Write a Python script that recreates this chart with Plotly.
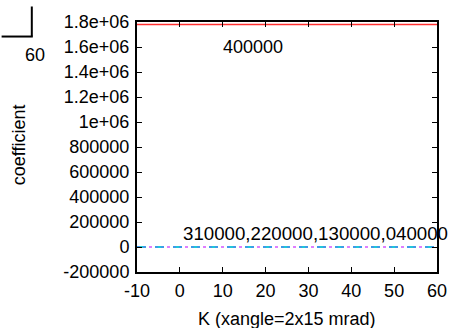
import plotly.graph_objects as go

# K values (xangle = 2x15 mrad)
K = [-10, 0, 10, 20, 30, 40, 50, 60]
# coefficient series
coef_400000 = [1780000, 1780000, 1780000, 1780000, 1780000, 1780000, 1780000, 1780000]
coef_310000 = [0, 0, 0, 0, 0, 0, 0, 0]
coef_220000 = [0, 0, 0, 0, 0, 0, 0, 0]
coef_130000 = [0, 0, 0, 0, 0, 0, 0, 0]
coef_040000 = [0, 0, 0, 0, 0, 0, 0, 0]

x_ticks = [-10, 0, 10, 20, 30, 40, 50, 60]
x_ticklabels = ["-10", "0", "10", "20", "30", "40", "50", "60"]
y_ticks = [-200000, 0, 200000, 400000, 600000, 800000, 1000000,
           1200000, 1400000, 1600000, 1800000]
y_ticklabels = ["-200000", "0", "200000", "400000", "600000", "800000",
                "1e+06", "1.2e+06", "1.4e+06", "1.6e+06", "1.8e+06"]

FONT = "Liberation Sans, Arial, sans-serif"
FS = 18

fig = go.Figure()
fig.add_trace(go.Scatter(x=K, y=coef_400000, mode="lines",
                         line=dict(color="#ff3030", width=1.6), name="400000"))
fig.add_trace(go.Scatter(x=K, y=coef_310000, mode="lines",
                         line=dict(color="#00c000", width=1.2, dash="dash"), name="310000"))
fig.add_trace(go.Scatter(x=K, y=coef_220000, mode="lines",
                         line=dict(color="#0080ff", width=1.2, dash="dash"), name="220000"))
fig.add_trace(go.Scatter(x=K, y=coef_130000, mode="lines",
                         line=dict(color="#c000ff", width=1.2, dash="dot"), name="130000"))
fig.add_trace(go.Scatter(x=K, y=coef_040000, mode="lines",
                         line=dict(color="#00e0f0", width=1.2, dash="dash"), name="040000"))

fig.add_annotation(x=17, y=1600000, text="400000", showarrow=False,
                   xanchor="center", yanchor="middle",
                   font=dict(family=FONT, size=FS, color="black"))
fig.add_annotation(x=0.2, y=110000, text="310000,220000,130000,040000",
                   showarrow=False, xanchor="left", yanchor="middle",
                   font=dict(family=FONT, size=18.7, color="black"))

# pixel -> paper helpers (plot area: x 137..445, y 14..272)
def px(xpix):
    return (xpix - 137) / 308.0

def py(ypix):
    return (272 - ypix) / 258.0

# fragment at top-left corner
fig.add_shape(type="line", xref="paper", yref="paper",
              x0=px(29), x1=px(29), y0=py(-2), y1=py(29),
              line=dict(color="black", width=2))
fig.add_shape(type="line", xref="paper", yref="paper",
              x0=px(-2), x1=px(30), y0=py(29), y1=py(29),
              line=dict(color="black", width=2))
fig.add_annotation(xref="paper", yref="paper", x=px(32), y=py(48), text="60",
                   showarrow=False, xanchor="center", yanchor="middle",
                   font=dict(family=FONT, size=FS, color="black"))

# axis titles
fig.add_annotation(xref="paper", yref="paper", x=px(291), y=py(320),
                   text="K (xangle=2x15 mrad)", showarrow=False,
                   xanchor="center", yanchor="middle",
                   font=dict(family=FONT, size=FS, color="black"))
fig.add_annotation(xref="paper", yref="paper", x=px(16), y=py(141),
                   text="coefficient", showarrow=False, textangle=-90,
                   xanchor="center", yanchor="middle",
                   font=dict(family=FONT, size=FS, color="black"))

fig.update_layout(
    width=459, height=328,
    margin=dict(l=137, r=14, t=14, b=56),
    paper_bgcolor="white", plot_bgcolor="white",
    showlegend=False,
    font=dict(family=FONT, size=FS, color="black"),
)
fig.update_xaxes(range=[-10, 60], tickvals=x_ticks, ticktext=x_ticklabels,
                 ticks="inside", ticklen=5,
                 showline=True, linecolor="black", linewidth=2, mirror="ticks",
                 showgrid=False, zeroline=False, tickcolor="black",
                 ticklabelstandoff=1)
fig.update_yaxes(range=[-200000, 1800000], tickvals=y_ticks, ticktext=y_ticklabels,
                 ticks="inside", ticklen=5, showline=True, linecolor="black",
                 linewidth=2, mirror="ticks", showgrid=False, zeroline=False,
                 tickcolor="black", ticklabelstandoff=2)

fig.write_html("out.html")
